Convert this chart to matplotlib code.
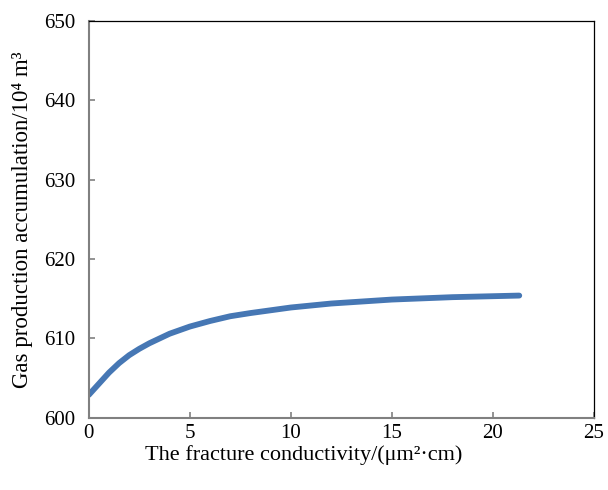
import matplotlib
matplotlib.use("Agg")
import matplotlib.pyplot as plt

plt.rcParams['font.family'] = ['Liberation Serif', 'DejaVu Serif']

conductivity = [0, 0.5, 1, 1.5, 2, 2.5, 3, 4, 5, 6, 7, 8, 10, 12, 15, 18, 21.3]
gas_production = [602.9, 604.3, 605.7, 606.9, 607.9, 608.7, 609.4, 610.6, 611.5, 612.2, 612.8, 613.2, 613.9, 614.4, 614.9, 615.2, 615.4]

x_ticks = [0, 5, 10, 15, 20, 25]
y_ticks = [600, 610, 620, 630, 640, 650]

fig = plt.figure(figsize=(6.08, 4.90), dpi=100)
ax = fig.add_axes([0.146, 0.147, 0.831, 0.811])

ax.plot(conductivity, gas_production, color='#4677B4', linewidth=4.2,
        solid_capstyle='round', solid_joinstyle='round')

ax.set_xlim(0, 25)
ax.set_ylim(600, 650)
ax.set_xticks(x_ticks)
ax.set_yticks(y_ticks)
ax.tick_params(axis='both', direction='in', length=4, width=1.2, color='#808080',
               labelsize=15)
ax.tick_params(axis='x', pad=4)
ax.tick_params(axis='y', pad=10)

for side in ['left', 'bottom']:
    ax.spines[side].set_color('#808080')
    ax.spines[side].set_linewidth(1.5)
for side in ['top', 'right']:
    ax.spines[side].set_color('black')
    ax.spines[side].set_linewidth(0.9)

ax.set_xlabel('The fracture conductivity/(μm²·cm)', fontsize=16)
ax.xaxis.set_label_coords(0.426, -0.068)
ax.set_ylabel('Gas production accumulation/10⁴ m³', fontsize=16.5, labelpad=8)

fig.savefig('out.png', dpi=100)
